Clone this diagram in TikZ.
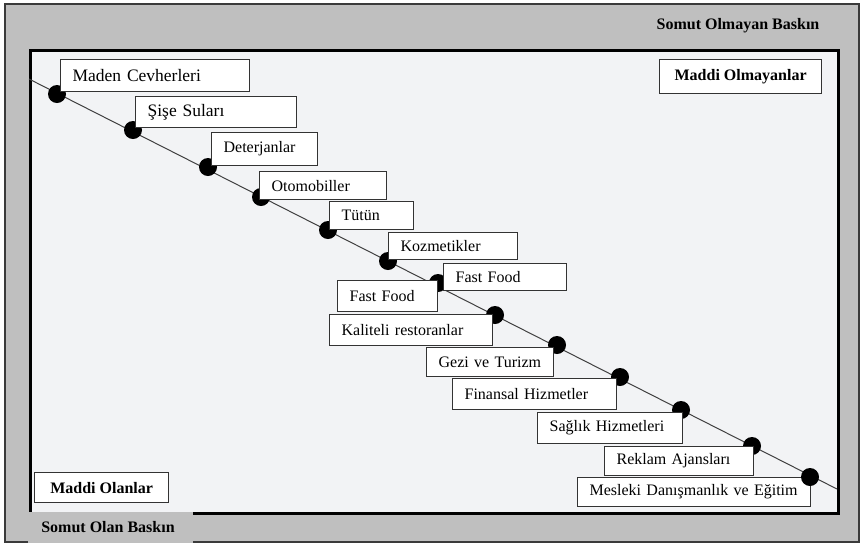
\documentclass[tikz,border=0pt]{standalone}
\usepackage{fontspec}
\setmainfont{Liberation Serif}
\definecolor{outergray}{HTML}{BFBFBF}
\definecolor{outerline}{HTML}{3A3A3A}
\definecolor{innerfill}{HTML}{F2F3F5}
\definecolor{boxline}{HTML}{333333}
\definecolor{diagline}{HTML}{404040}
\begin{document}
\begin{tikzpicture}[x=1pt,y=-1pt,
  frameouter/.style={draw=outerline, line width=1.5pt, fill=outergray, anchor=north west, inner sep=0pt},
  frameinner/.style={draw=black, line width=2.5pt, fill=innerfill, anchor=north west, inner sep=0pt},
  lbl/.style={draw=boxline, line width=1.2pt, fill=white, anchor=north west, inner xsep=12pt, inner ysep=0pt, align=left, font=\fontsize{16}{18}\selectfont},
  lblbig/.style={lbl, font=\fontsize{17.5}{19}\selectfont},
  cornerlbl/.style={draw=boxline, line width=1.2pt, fill=white, anchor=north west, inner sep=0pt, font=\bfseries\fontsize{16}{18}\selectfont},
  baskin/.style={font=\bfseries\fontsize{16}{18}\selectfont, inner sep=0pt},
  dotnode/.style={circle, fill=black, minimum size=18pt, inner sep=0pt},
  diag/.style={draw=diagline, line width=1pt}]
\useasboundingbox (0,0) rectangle (861,542);
% frames
\node[frameouter, minimum width=854pt, minimum height=538pt] (outer) at (4,3) {};
\node[frameinner, minimum width=808pt, minimum height=463pt] (inner) at (29,49) {};
% bottom label band
\node[fill=outergray, anchor=north west, inner sep=0pt, minimum width=165pt, minimum height=31pt] (olanband) at (28,511.5) {};
\node[baskin] (olan) at (108,527) {Somut Olan Baskın};
\node[baskin] (olmayan) at (738,26) {Somut Olmayan Baskın};
% corner labels
\node[cornerlbl, minimum width=162pt, minimum height=34pt] (maddiolmayan) at (659,59) {Maddi Olmayanlar};
\node[cornerlbl, minimum width=134pt, minimum height=30pt] (maddiolan) at (34,472) {Maddi Olanlar};
% diagonal
\coordinate (L) at (29,79);
\coordinate (R) at (837,489);
\draw[diag] (L) -- (R);
% dots
\node[dotnode] (d1) at (57,94) {};
\node[dotnode] (d2) at (133,130) {};
\node[dotnode] (d3) at (208,167) {};
\node[dotnode] (d4) at (261,197) {};
\node[dotnode] (d5) at (328,230) {};
\node[dotnode] (d6) at (388,261) {};
\node[dotnode] (d7) at (438,283) {};
\node[dotnode] (d8) at (495,315) {};
\node[dotnode] (d9) at (557,345) {};
\node[dotnode] (d10) at (620,377) {};
\node[dotnode] (d11) at (681,410) {};
\node[dotnode] (d12) at (752,446) {};
% labels
\node[lblbig, text width=165pt, minimum height=32pt] (l1) at (60,59) {Maden Cevherleri};
\node[lblbig, text width=137pt, minimum height=31pt] (l2) at (135,96) {Şişe Suları};
\node[lbl, text width=82pt, minimum height=33pt] (l3) at (211,132) {Deterjanlar};
\node[lbl, text width=103pt, minimum height=28pt] (l4) at (259,171) {Otomobiller};
\node[lbl, text width=60pt, minimum height=28pt] (l5) at (329,201) {Tütün};
\node[lbl, text width=105pt, minimum height=27pt] (l6) at (388,232) {Kozmetikler};
\node[lbl, text width=99pt, minimum height=27pt] (l7) at (443,263) {Fast Food};
\node[lbl, text width=76pt, minimum height=31pt] (l8) at (337,280) {Fast Food};
\node[lbl, text width=139pt, minimum height=31pt] (l9) at (329,314) {Kaliteli restoranlar};
\node[lbl, text width=103pt, minimum height=29pt] (l10) at (426,347) {Gezi ve Turizm};
\node[lbl, text width=140pt, minimum height=31pt] (l11) at (452,378) {Finansal Hizmetler};
\node[lbl, text width=121pt, minimum height=31pt] (l12) at (537,412) {Sağlık Hizmetleri};
\node[lbl, text width=125pt, minimum height=29pt] (l13) at (604,446) {Reklam Ajansları};
\node[lbl, text width=209pt, minimum height=29pt] (l14) at (577,477) {Mesleki Danışmanlık ve Eğitim};
\node[dotnode] (d13) at (810,477) {};
\end{tikzpicture}
\end{document}
